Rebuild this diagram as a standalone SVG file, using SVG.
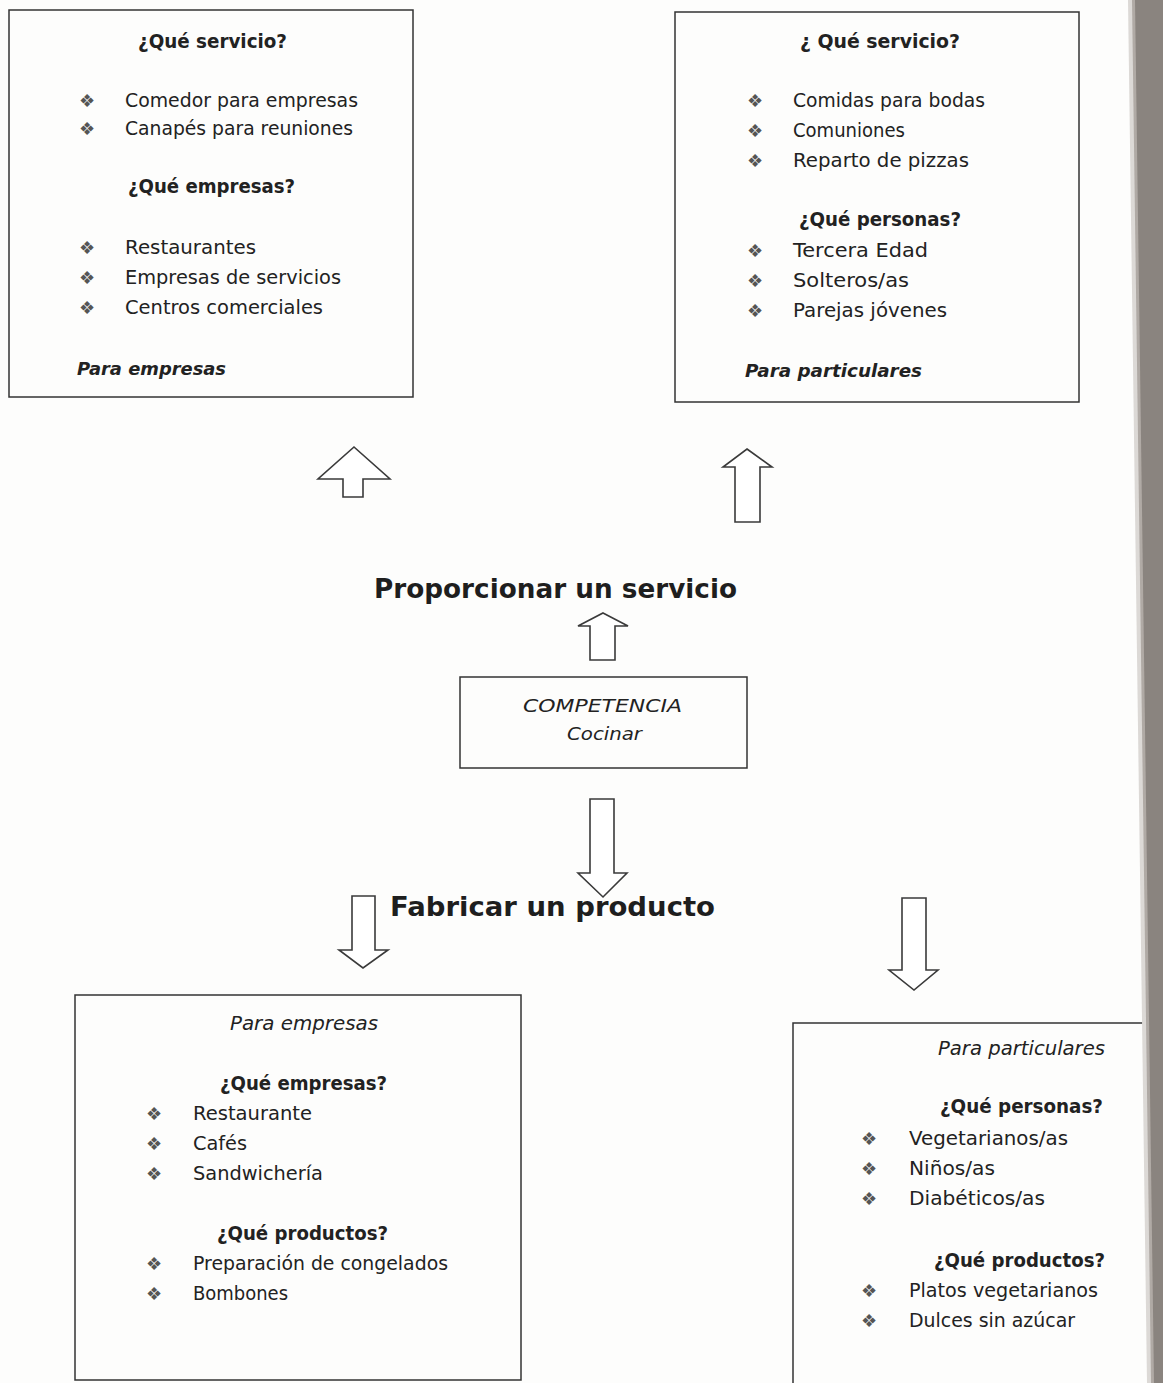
<svg xmlns="http://www.w3.org/2000/svg" width="1163" height="1383" viewBox="0 0 1163 1383">
<style>
  .bg { fill: #fdfdfc; }
  .box { fill: none; stroke: #333; stroke-width: 1.5; }
  .arrow { fill: #fff; stroke: #3a3a3a; stroke-width: 1.6; stroke-linejoin: miter; }
  text { font-family: "DejaVu Sans", "Liberation Sans", sans-serif; fill: #222; }
  .t { font-size: 19px; }
  .h { font-size: 19px; font-weight: bold; }
  .bi { font-size: 18px; font-weight: bold; font-style: italic; }
  .i { font-size: 19px; font-style: italic; }
  .ci { font-size: 18px; font-style: italic; }
  .big { font-size: 27px; font-weight: bold; fill: #1e1e1e; }
  .b { font-size: 18px; fill: #555; }
</style>
<rect class="bg" x="0" y="0" width="1163" height="1383"/>

<g id="box-servicio-empresas">
  <rect class="box" x="9" y="10" width="404" height="387"/>
  <text class="h" x="138" y="48" textLength="149" lengthAdjust="spacingAndGlyphs">¿Qué servicio?</text>
  <text class="b" x="79" y="107">❖</text>
  <text class="t" x="125" y="107" textLength="233" lengthAdjust="spacingAndGlyphs">Comedor para empresas</text>
  <text class="b" x="79" y="135">❖</text>
  <text class="t" x="125" y="135" textLength="228" lengthAdjust="spacingAndGlyphs">Canapés para reuniones</text>
  <text class="h" x="128" y="193" textLength="167" lengthAdjust="spacingAndGlyphs">¿Qué empresas?</text>
  <text class="b" x="79" y="254">❖</text>
  <text class="t" x="125" y="254" textLength="131" lengthAdjust="spacingAndGlyphs">Restaurantes</text>
  <text class="b" x="79" y="284">❖</text>
  <text class="t" x="125" y="284" textLength="216" lengthAdjust="spacingAndGlyphs">Empresas de servicios</text>
  <text class="b" x="79" y="314">❖</text>
  <text class="t" x="125" y="314" textLength="198" lengthAdjust="spacingAndGlyphs">Centros comerciales</text>
  <text class="bi" x="77" y="375" textLength="149" lengthAdjust="spacingAndGlyphs">Para empresas</text>
</g>

<g id="box-servicio-particulares">
  <rect class="box" x="675" y="12" width="404" height="390"/>
  <text class="h" x="800" y="48" textLength="160" lengthAdjust="spacingAndGlyphs">¿ Qué servicio?</text>
  <text class="b" x="747" y="107">❖</text>
  <text class="t" x="793" y="107" textLength="192" lengthAdjust="spacingAndGlyphs">Comidas para bodas</text>
  <text class="b" x="747" y="137">❖</text>
  <text class="t" x="793" y="137" textLength="112" lengthAdjust="spacingAndGlyphs">Comuniones</text>
  <text class="b" x="747" y="167">❖</text>
  <text class="t" x="793" y="167" textLength="176" lengthAdjust="spacingAndGlyphs">Reparto de pizzas</text>
  <text class="h" x="799" y="226" textLength="162" lengthAdjust="spacingAndGlyphs">¿Qué personas?</text>
  <text class="b" x="747" y="257">❖</text>
  <text class="t" x="793" y="257" textLength="135" lengthAdjust="spacingAndGlyphs">Tercera Edad</text>
  <text class="b" x="747" y="287">❖</text>
  <text class="t" x="793" y="287" textLength="116" lengthAdjust="spacingAndGlyphs">Solteros/as</text>
  <text class="b" x="747" y="317">❖</text>
  <text class="t" x="793" y="317" textLength="154" lengthAdjust="spacingAndGlyphs">Parejas jóvenes</text>
  <text class="bi" x="745" y="377" textLength="177" lengthAdjust="spacingAndGlyphs">Para particulares</text>
</g>

<g id="label-servicio">
  <text class="big" x="374" y="598" textLength="363" lengthAdjust="spacingAndGlyphs">Proporcionar un servicio</text>
</g>

<g id="box-competencia">
  <rect class="box" x="460" y="677" width="287" height="91"/>
  <text class="ci" x="523" y="712" textLength="159" lengthAdjust="spacingAndGlyphs">COMPETENCIA</text>
  <text class="ci" x="567" y="740" textLength="75" lengthAdjust="spacingAndGlyphs">Cocinar</text>
</g>

<g id="label-producto">
  <text class="big" x="390" y="916" textLength="325" lengthAdjust="spacingAndGlyphs">Fabricar un producto</text>
</g>

<g id="box-producto-empresas">
  <rect class="box" x="75" y="995" width="446" height="385"/>
  <text class="i" x="230" y="1030" textLength="148" lengthAdjust="spacingAndGlyphs">Para empresas</text>
  <text class="h" x="220" y="1090" textLength="167" lengthAdjust="spacingAndGlyphs">¿Qué empresas?</text>
  <text class="b" x="146" y="1120">❖</text>
  <text class="t" x="193" y="1120" textLength="119" lengthAdjust="spacingAndGlyphs">Restaurante</text>
  <text class="b" x="146" y="1150">❖</text>
  <text class="t" x="193" y="1150" textLength="54" lengthAdjust="spacingAndGlyphs">Cafés</text>
  <text class="b" x="146" y="1180">❖</text>
  <text class="t" x="193" y="1180" textLength="130" lengthAdjust="spacingAndGlyphs">Sandwichería</text>
  <text class="h" x="217" y="1240" textLength="171" lengthAdjust="spacingAndGlyphs">¿Qué productos?</text>
  <text class="b" x="146" y="1270">❖</text>
  <text class="t" x="193" y="1270" textLength="255" lengthAdjust="spacingAndGlyphs">Preparación de congelados</text>
  <text class="b" x="146" y="1300">❖</text>
  <text class="t" x="193" y="1300" textLength="95" lengthAdjust="spacingAndGlyphs">Bombones</text>
</g>

<g id="box-producto-particulares">
  <rect class="box" x="793" y="1023" width="370" height="380"/>
  <text class="i" x="938" y="1055" textLength="167" lengthAdjust="spacingAndGlyphs">Para particulares</text>
  <text class="h" x="940" y="1113" textLength="163" lengthAdjust="spacingAndGlyphs">¿Qué personas?</text>
  <text class="b" x="861" y="1145">❖</text>
  <text class="t" x="909" y="1145" textLength="159" lengthAdjust="spacingAndGlyphs">Vegetarianos/as</text>
  <text class="b" x="861" y="1175">❖</text>
  <text class="t" x="909" y="1175" textLength="86" lengthAdjust="spacingAndGlyphs">Niños/as</text>
  <text class="b" x="861" y="1205">❖</text>
  <text class="t" x="909" y="1205" textLength="136" lengthAdjust="spacingAndGlyphs">Diabéticos/as</text>
  <text class="h" x="934" y="1267" textLength="171" lengthAdjust="spacingAndGlyphs">¿Qué productos?</text>
  <text class="b" x="861" y="1297">❖</text>
  <text class="t" x="909" y="1297" textLength="189" lengthAdjust="spacingAndGlyphs">Platos vegetarianos</text>
  <text class="b" x="861" y="1327">❖</text>
  <text class="t" x="909" y="1327" textLength="166" lengthAdjust="spacingAndGlyphs">Dulces sin azúcar</text>
</g>

<g id="connectors">
  <path class="arrow" d="M354,447 L390,479 L363,479 L363,497 L343,497 L343,479 L318,479 Z"/>
  <path class="arrow" d="M747,449 L772,467 L760,467 L760,522 L735,522 L735,467 L723,467 Z"/>
  <path class="arrow" d="M603,613 L628,626 L615,626 L615,660 L590,660 L590,626 L578,626 Z"/>
  <path class="arrow" d="M590,799 L614,799 L614,873 L627,873 L603,897 L578,873 L590,873 Z"/>
  <path class="arrow" d="M352,896 L375,896 L375,950 L388,950 L363,968 L339,950 L352,950 Z"/>
  <path class="arrow" d="M902,898 L926,898 L926,970 L938,970 L914,990 L889,970 L902,970 Z"/>
</g>

<g id="page-edge">
  <polygon points="1128,0 1163,0 1163,1383 1147,1383" fill="#dcd9d6"/>
  <polygon points="1132,0 1163,0 1163,1383 1151,1383" fill="#b0aaa5"/>
  <polygon points="1135,0 1163,0 1163,1383 1154,1383" fill="#8a847f"/>
</g>
</svg>
